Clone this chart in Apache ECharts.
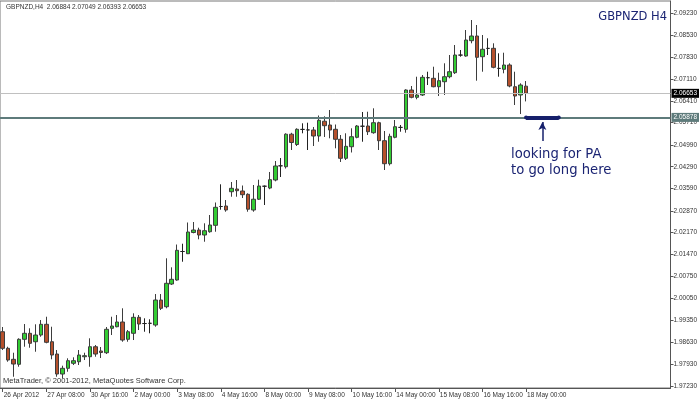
<!DOCTYPE html>
<html><head><meta charset="utf-8">
<script src="https://cdn.jsdelivr.net/npm/echarts@6/dist/echarts.min.js"></script>
<style>html,body{margin:0;padding:0;background:#fff}#c{width:700px;height:400px}</style>
</head><body><div id="c"></div>
<script>
const xTickLabels = ["26 Apr 2012","27 Apr 08:00","30 Apr 16:00","2 May 00:00","3 May 08:00","4 May 16:00","8 May 00:00","9 May 08:00","10 May 16:00","14 May 00:00","15 May 08:00","16 May 16:00","18 May 00:00"];
const yTickValues = [2.0923,2.0853,2.0783,2.0711,2.0641,2.0571,2.0499,2.0429,2.0359,2.0287,2.0217,2.0147,2.0075,2.0005,1.9935,1.9863,1.9793,1.9723];
const opens = [1.98977,1.98443,1.98089,1.97928,1.98733,1.98926,1.98655,1.98871,1.99216,1.98655,
1.98259,1.97615,1.97799,1.97960,1.98011,1.98172,1.98172,1.98494,1.98356,1.98301,
1.99087,1.99138,1.99290,1.98733,1.98926,1.99441,1.99241,1.99248,1.99193,1.99998,
1.99782,2.00513,2.00642,2.01560,2.01489,2.02172,2.02252,2.02091,2.02197,2.02403,
2.03009,2.03025,2.03485,2.03572,2.03508,2.03402,2.02896,2.03244,2.03662,2.03604,
2.03862,2.04319,2.04290,2.05337,2.05005,2.05491,2.05475,2.05472,2.05279,2.05755,
2.05633,2.05495,2.05173,2.04561,2.04934,2.05237,2.05594,2.05601,2.05385,2.05707,
2.05128,2.04387,2.05237,2.05556,2.05495,2.06760,2.06525,2.06599,2.07156,2.07137,
2.06866,2.07027,2.07188,2.07317,2.07884,2.07855,2.08348,2.08499,2.07832,2.08100,
2.08103,2.07456,2.07427,2.07565,2.06866,2.06599,2.06884];
const highs = [1.99129,1.98494,1.98301,1.98765,1.99225,1.99087,1.99216,1.99354,1.99460,1.99138,
1.98388,1.97883,1.98121,1.98153,1.98388,1.98301,1.98765,1.98549,1.98485,1.99129,
1.99460,1.99515,1.99731,1.99032,1.99570,1.99515,1.99409,1.99377,2.00191,2.00191,
2.01341,2.01051,2.01785,2.01811,2.02494,2.02510,2.02326,2.02468,2.02735,2.03138,
2.03724,2.03218,2.03798,2.03862,2.03685,2.03434,2.03701,2.03872,2.03685,2.04120,
2.04474,2.04570,2.05366,2.05382,2.05527,2.05688,2.05707,2.05569,2.05939,2.05913,
2.06116,2.05649,2.05311,2.05366,2.05527,2.05633,2.06052,2.06061,2.06171,2.05739,
2.05440,2.05353,2.05794,2.05633,2.06783,2.06889,2.07188,2.07243,2.07349,2.07510,
2.07317,2.07620,2.07887,2.08209,2.08048,2.08692,2.09014,2.08853,2.08531,2.08425,
2.08264,2.07942,2.07961,2.07620,2.07349,2.06976,2.07049];
const lows = [1.98388,1.98011,1.97528,1.97850,1.98494,1.98462,1.98333,1.98816,1.98604,1.98089,
1.97528,1.97477,1.97689,1.97905,1.97905,1.98066,1.97850,1.98172,1.98130,1.98259,
1.98871,1.99119,1.98655,1.98655,1.98710,1.99032,1.98977,1.98926,1.99138,1.99676,
1.99731,2.00481,2.00620,2.01231,2.01479,2.02146,2.01953,2.01875,2.02165,2.02197,
2.02906,2.02841,2.03324,2.03324,2.03282,2.02841,2.02841,2.03218,2.03057,2.03566,
2.03820,2.03959,2.04232,2.04828,2.04957,2.05366,2.04828,2.04957,2.05095,2.05247,
2.05205,2.04883,2.04442,2.04506,2.04748,2.05205,2.05095,2.05311,2.05353,2.04828,
2.04184,2.04329,2.05205,2.05417,2.05385,2.06493,2.06461,2.06567,2.06921,2.06847,
2.06567,2.06599,2.07137,2.07275,2.07832,2.07832,2.08264,2.07060,2.07349,2.07887,
2.07459,2.07188,2.07298,2.06847,2.06277,2.05987,2.06393];
const closes = [1.98443,1.98066,1.97937,1.98733,1.98926,1.98604,1.98871,1.99216,1.98636,1.98227,
1.97615,1.97799,1.98044,1.98044,1.98227,1.98205,1.98494,1.98259,1.98308,1.99055,
1.99161,1.99290,1.98710,1.98977,1.99441,1.99225,1.99241,1.99248,1.99998,1.99731,
2.00536,2.00665,2.01598,2.01560,2.02188,2.02252,2.02091,2.02230,2.02413,2.02983,
2.03009,2.02896,2.03595,2.03518,2.03389,2.02922,2.03244,2.03669,2.03662,2.03872,
2.04313,2.04319,2.05337,2.05070,2.05495,2.05491,2.05475,2.05279,2.05784,2.05611,
2.05472,2.05173,2.04561,2.04947,2.05256,2.05601,2.05594,2.05417,2.05707,2.05128,
2.04387,2.05269,2.05578,2.05556,2.06760,2.06525,2.06599,2.07169,2.07156,2.06866,
2.07060,2.07188,2.07349,2.07887,2.07884,2.08370,2.08499,2.07813,2.08071,2.08100,
2.07491,2.07456,2.07565,2.06889,2.06567,2.06921,2.06653];
const supportLevel = 2.05878;
const bidLevel = 2.06653;
const header = "GBPNZD,H4  2.06884 2.07049 2.06393 2.06653";

const BARS_PER_TICK = 8;
const TOTAL_SLOTS = 123;
const categories = [];
for (let i = 0; i < TOTAL_SLOTS; i++) categories.push(String(i));
const candles = opens.map((o, i) => [o, closes[i], lows[i], highs[i]]);
const lastIdx = opens.length - 1;
const isTick = (i) => i % BARS_PER_TICK === 0 && i / BARS_PER_TICK < xTickLabels.length;

const chart = echarts.init(document.getElementById('c'), null, {renderer: 'canvas'});
const axisFont = 'Liberation Sans, Arial, sans-serif';
chart.setOption({
  animation: false,
  backgroundColor: '#ffffff',
  title: {
    text: 'GBPNZD H4', right: 28, top: 6,
    textStyle: {color: '#1b2473', fontSize: 11.5, fontWeight: 'normal', fontFamily: 'DejaVu Sans'}
  },
  grid: {left: 0, right: 25, top: 1, bottom: 12, show: true, borderColor: '#777', borderWidth: 1, backgroundColor: '#fff'},
  xAxis: {
    type: 'category', data: categories, boundaryGap: true,
    axisLine: {show: true, lineStyle: {color: '#555'}},
    axisTick: {show: true, interval: (i) => isTick(i), alignWithLabel: true, length: 4, lineStyle: {color: '#555'}},
    axisLabel: {
      interval: (i) => isTick(i), align: 'left', margin: 4,
      formatter: (v, i) => isTick(i) ? xTickLabels[i / BARS_PER_TICK] : '',
      fontSize: 6.5, color: '#333', fontFamily: axisFont, padding: [0, 0, 0, 1]
    },
    splitLine: {show: false}
  },
  yAxis: {
    type: 'value', position: 'right', scale: true,
    min: 1.97165, max: 2.09626,
    axisLine: {show: true, lineStyle: {color: '#555'}},
    axisTick: {show: true, length: 3, customValues: yTickValues, lineStyle: {color: '#555'}},
    axisLabel: {customValues: yTickValues, formatter: (v) => v.toFixed(5), fontSize: 6.5, color: '#333', margin: 3, fontFamily: axisFont},
    splitLine: {show: false}
  },
  graphic: [
    {type: 'text', left: 6, top: 4, z: 10, style: {text: header, fontSize: 6.5, fill: '#333', fontFamily: axisFont}},
    {type: 'text', left: 3, top: 377, z: 10, style: {text: 'MetaTrader, \u00a9 2001-2012, MetaQuotes Software Corp.', fontSize: 7.5, fill: '#333', fontFamily: axisFont}},
    {type: 'text', left: 511, top: 147, z: 10, style: {text: 'looking for PA\nto go long here', fontSize: 13.2, lineHeight: 16, fill: '#1b2473', fontFamily: 'DejaVu Sans', align: 'left'}}
  ],
  series: [{
    type: 'candlestick',
    data: candles,
    barWidth: 4,
    itemStyle: {
      color: '#33cc33', color0: '#b5502c',
      borderColor: '#3d3d3d', borderColor0: '#3d3d3d', borderColorDoji: '#222',
      borderWidth: 1
    },
    markLine: {
      silent: true, symbol: 'none', animation: false, precision: 5,
      data: [
        {yAxis: bidLevel, lineStyle: {color: '#c0c0c0', width: 1, type: 'solid'},
         label: {show: true, position: 'end', distance: 1, formatter: bidLevel.toFixed(5), color: '#fff', backgroundColor: '#000', fontSize: 6.5, padding: [1, 2, 1, 2], fontFamily: axisFont}},
        {yAxis: supportLevel, lineStyle: {color: '#5e7b7b', width: 2, type: 'solid'},
         label: {show: true, position: 'end', distance: 1, formatter: supportLevel.toFixed(5), color: '#fff', backgroundColor: '#5e7b7b', fontSize: 6.5, padding: [1, 2, 1, 2], fontFamily: axisFont}},
        [{coord: [lastIdx, supportLevel], symbol: 'circle', symbolSize: 4}, {coord: [lastIdx + 6, supportLevel], symbol: 'circle', symbolSize: 4,
          lineStyle: {color: '#16206b', width: 4, type: 'solid'}, itemStyle: {color: '#16206b'}, label: {show: false}}],
        [{coord: [lastIdx + 3, 2.05118], symbol: 'none'}, {coord: [lastIdx + 3, 2.05730], symbol: 'arrow', symbolSize: [6, 8],
          lineStyle: {color: '#16206b', width: 1.5, type: 'solid'}, itemStyle: {color: '#16206b'}, label: {show: false}}]
      ]
    }
  }]
});
</script>
</body></html>
